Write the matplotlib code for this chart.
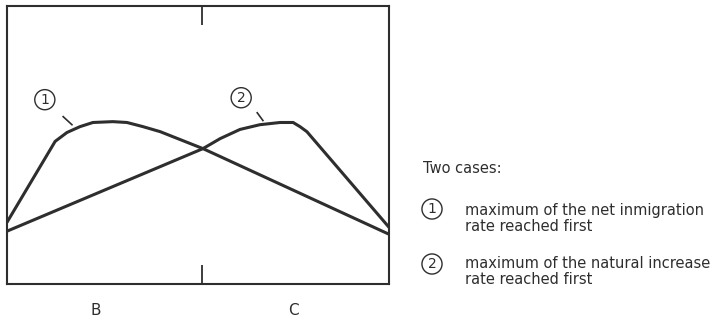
import numpy as np
import matplotlib.pyplot as plt

# curve 1: maximum of the net inmigration rate reached first
x1 = [0, 1.26, 1.57, 1.91, 2.25, 2.77, 3.14, 3.56, 4.01, 5.13, 10.0]
y1 = [2.22, 5.13, 5.45, 5.66, 5.81, 5.84, 5.81, 5.66, 5.48, 4.87, 1.79]

# curve 2: maximum of the natural increase rate reached first
x2 = [0, 5.13, 5.58, 6.10, 6.62, 7.15, 7.49, 7.67, 7.85, 10.0]
y2 = [1.90, 4.87, 5.23, 5.56, 5.73, 5.81, 5.81, 5.66, 5.48, 2.04]

# curve labels and their short leader lines
label_names = ['1', '2']
label_x = [0.99, 6.13]
label_y = [6.63, 6.70]
leader_x = [[1.47, 1.70], [6.55, 6.70]]
leader_y = [[6.02, 5.73], [6.16, 5.88]]

mid = 5.10
region_names = ['B', 'C']
region_x = [2.33, 7.51]

legend_title = 'Two cases:'
legend_items = [('1', 'maximum of the net inmigration', 'rate reached first'),
                ('2', 'maximum of the natural increase', 'rate reached first')]

ink = '#2e2e2e'
plt.rcParams['font.family'] = ['DejaVu Sans']

fig = plt.figure(figsize=(7.18, 3.2), dpi=100)
ax = fig.add_axes([7 / 718, 36 / 320, 382 / 718, 278 / 320])

ax.plot(x1, y1, color=ink, lw=2.2, solid_joinstyle='round', solid_capstyle='round')
ax.plot(x2, y2, color=ink, lw=2.2, solid_joinstyle='round', solid_capstyle='round')

for name, lx, ly, sx, sy in zip(label_names, label_x, label_y, leader_x, leader_y):
    ax.text(lx, ly, name, ha='center', va='center', fontsize=10, color=ink,
            bbox=dict(boxstyle='circle,pad=0.22', fc='none', ec=ink, lw=1.0))
    ax.plot(sx, sy, color=ink, lw=1.2)

ax.set_xlim(0, 10)
ax.set_ylim(0, 10)
for s in ax.spines.values():
    s.set_color(ink)
    s.set_linewidth(1.5)

ax.set_xticks([mid])
ax.set_xticklabels([])
ax.tick_params(axis='x', which='major', direction='in', length=13.5, width=1.3,
               color=ink, top=True, bottom=True)
ax.set_xticks(region_x, minor=True)
ax.set_xticklabels(region_names, minor=True)
ax.tick_params(axis='x', which='minor', length=0, pad=14, labelsize=11, labelcolor=ink)
ax.set_yticks([])

# legend on the right
fig.text(423 / 718, 1 - 173 / 320, legend_title, fontsize=10.5, color=ink, va='baseline')
for (num, line1, line2), cy, base in zip(legend_items, [209, 264], [215, 268]):
    fig.text(432 / 718, 1 - cy / 320, num, ha='center', va='center', fontsize=10, color=ink,
             bbox=dict(boxstyle='circle,pad=0.22', fc='none', ec=ink, lw=1.0))
    fig.text(465 / 718, 1 - base / 320, line1, fontsize=10.5, color=ink, va='baseline')
    fig.text(465 / 718, 1 - (base + 16) / 320, line2, fontsize=10.5, color=ink, va='baseline')

fig.savefig('out.png', dpi=100)
